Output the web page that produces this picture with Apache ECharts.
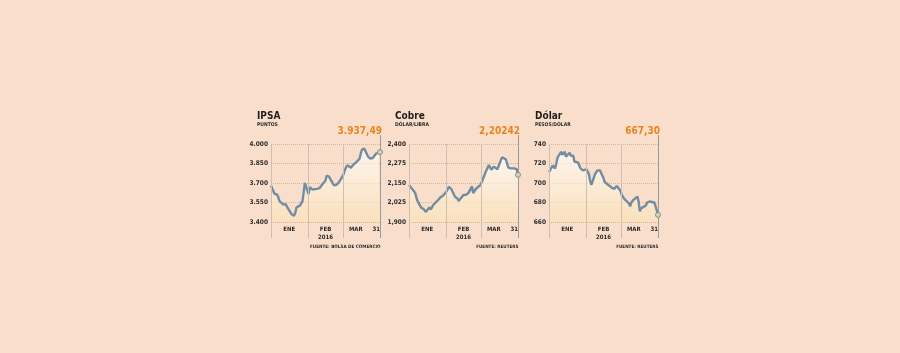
<!DOCTYPE html>
<html>
<head>
<meta charset="utf-8">
<script src="https://cdn.jsdelivr.net/npm/echarts@6/dist/echarts.min.js"></script>
<style>
html, body { margin: 0; padding: 0; background: #F9DFCB; }
#main { width: 900px; height: 353px; }
</style>
</head>
<body>
<div id="main"></div>
<script>
// dias desde el 1 de enero de 2016 (dias habiles)
var days = [0, 3, 4, 5, 6, 7, 10, 11, 12, 13, 14, 17, 18, 19, 20, 21, 24, 25, 26, 27, 28,
    31, 32, 33, 34, 35, 38, 39, 40, 41, 42, 45, 46, 47, 48, 49, 52, 53, 54, 55, 56, 59,
    60, 61, 62, 63, 66, 67, 68, 69, 70, 73, 74, 75, 76, 77, 80, 81, 82, 83, 84, 87, 88, 89, 90];

var ipsa = [3680, 3615, 3618, 3612, 3590, 3560, 3535, 3532, 3538, 3542, 3505, 3460, 3452, 3448, 3470, 3512, 3528, 3535, 3560, 3630, 3700,
    3615, 3668, 3655, 3650, 3660, 3655, 3662, 3660, 3672, 3685, 3720, 3758, 3765, 3748, 3730, 3682, 3676, 3686, 3695, 3705, 3750,
    3770, 3800, 3820, 3836, 3818, 3830, 3842, 3850, 3856, 3885, 3920, 3955, 3965, 3966, 3905, 3890, 3888, 3888, 3892, 3928, 3934, 3932, 3937.49];

var cobre = [2.137, 2.108, 2.104, 2.088, 2.060, 2.035, 1.992, 1.985, 1.983, 1.986, 1.965, 1.995, 1.980, 1.985, 2.009, 2.018, 2.041, 2.050, 2.058, 2.062, 2.068,
    2.095, 2.105, 2.126, 2.122, 2.110, 2.062, 2.052, 2.050, 2.035, 2.030, 2.073, 2.076, 2.075, 2.078, 2.085, 2.128, 2.086, 2.098, 2.110, 2.118, 2.138,
    2.155, 2.175, 2.195, 2.215, 2.265, 2.248, 2.235, 2.245, 2.255, 2.238, 2.258, 2.278, 2.300, 2.315, 2.300, 2.276, 2.248, 2.240, 2.244, 2.244, 2.245, 2.238, 2.20242];

var dolar = [711, 718, 716, 715, 720, 726, 732, 729, 729, 732, 727, 731, 728, 727, 728, 722, 721, 718, 715, 713, 713,
    714, 712, 709, 702, 698, 709, 711, 713, 713, 713, 705, 701, 703, 699, 697, 695, 695, 694, 695, 697, 692,
    688, 686, 684, 683, 679, 676, 680, 681, 683, 686, 681, 671, 674, 675, 677, 680, 681, 681, 681, 680, 676, 672, 667.30];

var ipsaTicks = [3400, 3550, 3700, 3850, 4000];
var cobreTicks = [1.9, 2.025, 2.15, 2.275, 2.4];
var dolarTicks = [660, 680, 700, 720, 740];

var monthLines = [0, 31, 60];
var endDay = 90;
var xLabelDays = [15, 45, 70, 87];
var xLabelText = ['ENE', 'FEB\n2016', 'MAR', '31'];

function miles(s) {
    return s.replace(/\B(?=(\d{3})+(?!\d))/g, '.');
}

var panels = [{
    title: 'IPSA', sub: 'PUNTOS', src: 'FUENTE: BOLSA DE COMERCIO',
    data: ipsa, ticks: ipsaTicks, left: 271,
    axisFmt: function(v) { return miles(String(Math.round(v))); },
    valFmt: function(v) { var p = v.toFixed(2).split('.'); return miles(p[0]) + ',' + p[1]; }
}, {
    title: 'Cobre', sub: 'DÓLAR/LIBRA', src: 'FUENTE: REUTERS',
    data: cobre, ticks: cobreTicks, left: 409,
    axisFmt: function(v) { return v.toFixed(3).replace('.', ','); },
    valFmt: function(v) { return v.toFixed(5).replace('.', ','); }
}, {
    title: 'Dólar', sub: 'PESOS/DÓLAR', src: 'FUENTE: REUTERS',
    data: dolar, ticks: dolarTicks, left: 549,
    axisFmt: function(v) { return String(v); },
    valFmt: function(v) { return v.toFixed(2).replace('.', ','); }
}];

var FONT = '"DejaVu Sans Condensed", "DejaVu Sans", sans-serif';
var gridTop = 144, gridH = 78, gridW = 109;
var lineBottom = gridTop + gridH + 16;  // las guias bajan hasta las etiquetas
var leaderTop = gridTop - 9;            // guia hasta el valor final

var grid = [], xAxis = [], yAxis = [], series = [], graphic = [];

panels.forEach(function(p, i) {
    var min = p.ticks[0], max = p.ticks[p.ticks.length - 1];
    var last = p.data[p.data.length - 1];

    grid.push({ left: p.left, top: gridTop, width: gridW, height: gridH });

    xAxis.push({
        type: 'value', gridIndex: i, min: 0, max: endDay,
        axisLine: { show: false }, axisTick: { show: false }, splitLine: { show: false },
        axisLabel: {
            customValues: xLabelDays,
            formatter: function(v) { return xLabelText[xLabelDays.indexOf(v)]; },
            fontFamily: FONT, fontSize: 6, fontWeight: 'bold', color: '#2a2a2a',
            lineHeight: 8, margin: 3
        }
    });

    yAxis.push({
        type: 'value', gridIndex: i, min: min, max: max,
        axisLine: { show: false },
        axisTick: { show: false, customValues: p.ticks },
        axisLabel: {
            customValues: p.ticks,
            formatter: p.axisFmt,
            fontFamily: FONT, fontSize: 6.5, fontWeight: 'bold', color: '#2e2e2e', margin: 3
        },
        splitLine: { show: true, lineStyle: { color: '#D9B692', type: 'dotted', width: 1 } }
    });

    var vlines = monthLines.map(function(d) {
        return [{ coord: [d, min], y: lineBottom }, { coord: [d, max] }];
    });
    vlines.push([
        { coord: [endDay, min], y: lineBottom, lineStyle: { color: '#9a9a9a' } },
        { coord: [endDay, max], y: leaderTop }
    ]);

    series.push({
        type: 'line',
        xAxisIndex: i, yAxisIndex: i,
        data: days.map(function(d, k) { return [d, p.data[k]]; }),
        symbol: 'none',
        clip: false,
        z: 3,
        lineStyle: { color: '#728DA2', width: 2.4 },
        areaStyle: {
            origin: 'start',
            color: new echarts.graphic.LinearGradient(0, 0, 0, 1, [
                { offset: 0, color: 'rgba(255,255,255,0.95)' },
                { offset: 1, color: 'rgba(251,226,182,0.9)' }
            ])
        },
        markLine: {
            silent: true, symbol: ['none', 'none'], label: { show: false },
            lineStyle: { color: '#CDBFB2', type: 'solid', width: 1 },
            data: vlines
        },
        markPoint: {
            silent: true, label: { show: false },
            data: [{
                coord: [endDay, last], symbol: 'circle', symbolSize: 5,
                itemStyle: { color: '#D3DB9E', borderColor: '#7E8F9C', borderWidth: 1 }
            }]
        }
    });

    graphic.push(
        { type: 'text', x: p.left - 14, y: 111, style: { text: p.title, font: 'bold 10px ' + FONT, fill: '#1e1e1e', verticalAlign: 'top' } },
        { type: 'text', x: p.left - 14, y: 122.5, style: { text: p.sub, font: 'bold 5px ' + FONT, fill: '#2a2a2a', verticalAlign: 'top' } },
        { type: 'text', x: p.left + 111, y: 131.5, style: { text: p.valFmt(last), font: 'bold 10px ' + FONT, fill: '#E8841C', align: 'right', verticalAlign: 'middle' } },
        { type: 'text', x: p.left + 109.5, y: 247, style: { text: p.src, font: 'bold 4.6px ' + FONT, fill: '#2a2a2a', align: 'right', verticalAlign: 'middle' } }
    );
});

var chart = echarts.init(document.getElementById('main'));
chart.setOption({
    animation: false,
    backgroundColor: '#F9DFCB',
    grid: grid,
    xAxis: xAxis,
    yAxis: yAxis,
    series: series,
    graphic: graphic
});
</script>
</body>
</html>
